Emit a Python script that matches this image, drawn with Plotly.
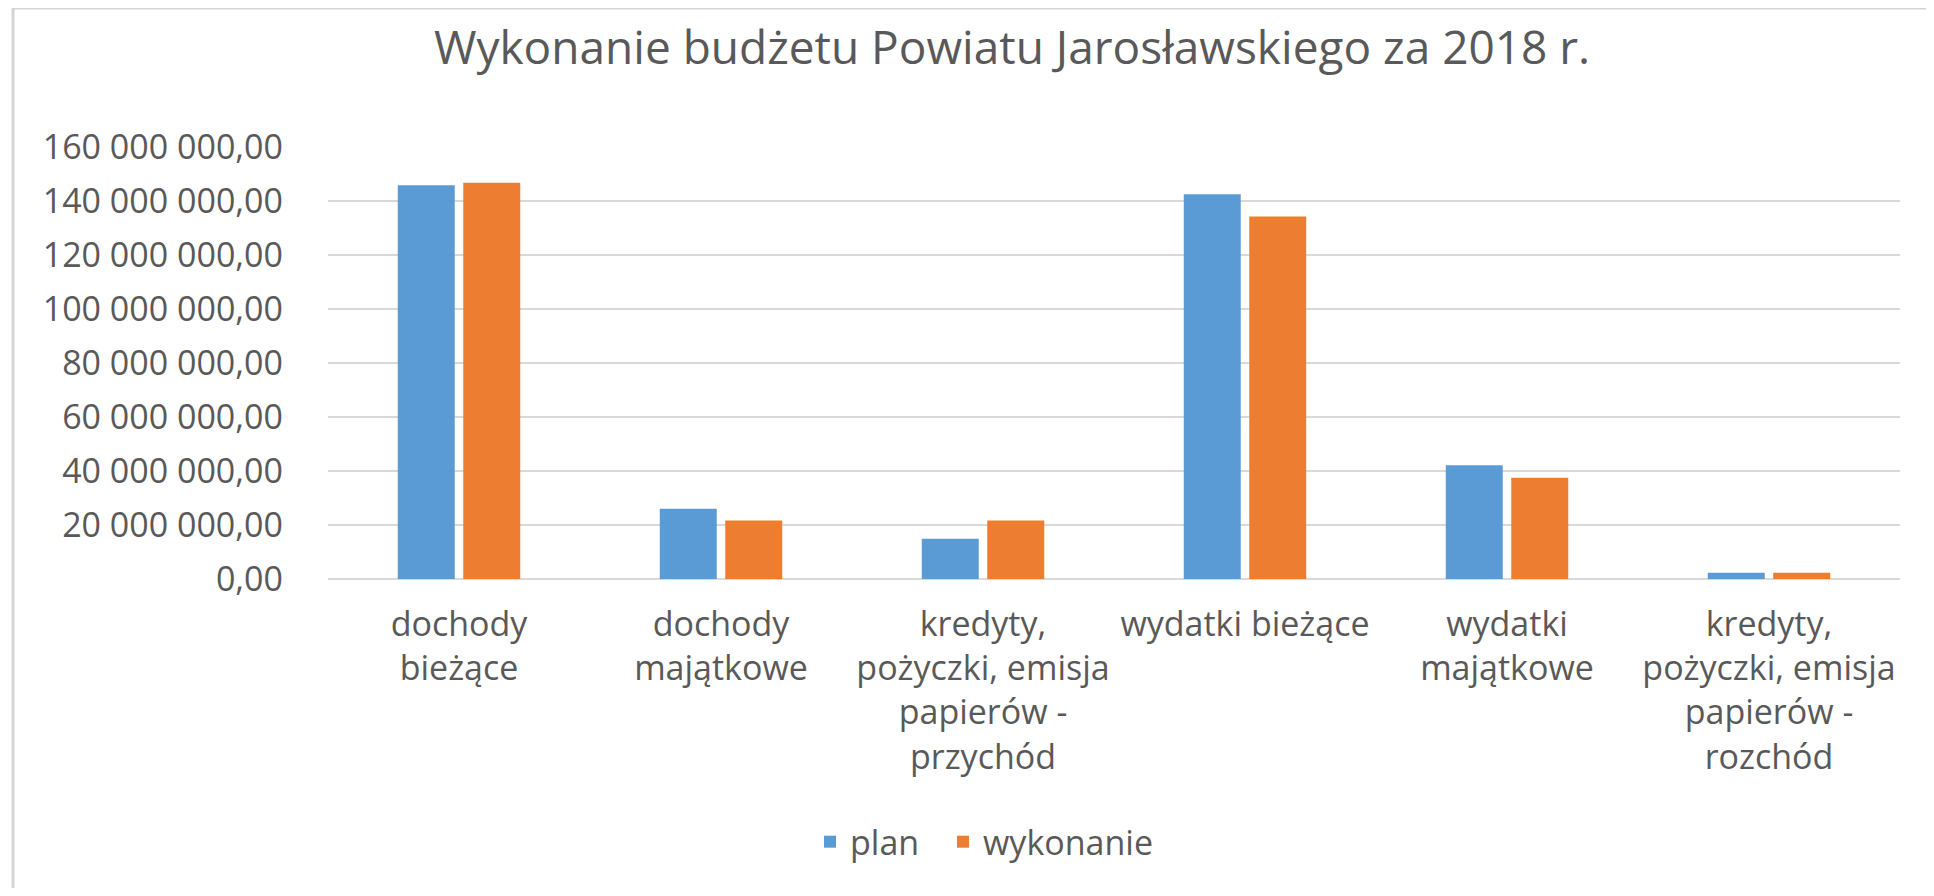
import plotly.graph_objects as go

categories = [
    "dochody<br>bieżące",
    "dochody<br>majątkowe",
    "kredyty,<br>pożyczki, emisja<br>papierów -<br>przychód",
    "wydatki bieżące",
    "wydatki<br>majątkowe",
    "kredyty,<br>pożyczki, emisja<br>papierów -<br>rozchód",
]
plan = [145_800_000, 26_000_000, 14_900_000, 142_500_000, 42_100_000, 2_300_000]
wykonanie = [146_800_000, 21_700_000, 21_700_000, 134_300_000, 37_500_000, 2_300_000]
series_names = ["plan", "wykonanie"]
y_ticks = [0, 20_000_000, 40_000_000, 60_000_000, 80_000_000, 100_000_000,
           120_000_000, 140_000_000, 160_000_000]
title_text = "Wykonanie budżetu Powiatu Jarosławskiego za 2018 r."

FONT = "Open Sans"
TXT = "#595959"
GRID = "#d9d9d9"

fig = go.Figure()
fig.add_trace(go.Bar(x=categories, y=plan, name=series_names[0],
                     legend="legend", showlegend=True,
                     marker=dict(color="#5b9bd5", line=dict(width=0))))
fig.add_trace(go.Bar(x=categories, y=wykonanie, name=series_names[1],
                     legend="legend2", showlegend=True,
                     marker=dict(color="#ed7d31", line=dict(width=0))))

legend_style = dict(orientation="h", xanchor="left", y=-0.609,
                    yanchor="middle", font=dict(size=34, color=TXT),
                    bgcolor="rgba(0,0,0,0)", visible=True)

fig.update_layout(
    width=1918, height=880,
    showlegend=True,
    margin=dict(l=320, r=26, t=139, b=309, pad=0),
    paper_bgcolor="white", plot_bgcolor="white",
    separators=", ",
    barmode="group", bargap=0.5, bargroupgap=0.13,
    font=dict(family=FONT, size=34, color=TXT),
    title=dict(text=title_text, x=0.5235, xanchor="center",
               y=1 - 40 / 880, yanchor="middle", yref="container",
               font=dict(family=FONT, size=46, color=TXT)),
    legend=dict(x=(816 - 320 - 14) / 1572, **legend_style),
    legend2=dict(x=(949 - 320 - 14) / 1572, **legend_style),
    xaxis=dict(showgrid=False, showline=False, ticks="",
               tickfont=dict(size=34, color=TXT), ticklabelstandoff=22,
               tickangle=0),
    yaxis=dict(range=[0, 160_000_000], tickvals=y_ticks, tickformat=",.2f",
               showgrid=True, gridcolor=GRID, gridwidth=2,
               zeroline=True, zerolinecolor=GRID, zerolinewidth=2,
               showline=False, ticks="", ticklabelstandoff=44,
               tickfont=dict(size=34, color=TXT)),
    shapes=[
        dict(type="line", xref="paper", yref="paper",
             x0=(5 - 320) / 1572, x1=(1918 - 320) / 1572,
             y0=(571 - 0) / 432, y1=(571 - 0) / 432,
             line=dict(color="#d4d4d4", width=3), layer="below"),
        dict(type="line", xref="paper", yref="paper",
             x0=(5 - 320) / 1572, x1=(5 - 320) / 1572,
             y0=(571 - 0) / 432, y1=(571 - 880) / 432,
             line=dict(color="#d4d4d4", width=3), layer="below"),
    ],
)

fig.write_html("out.html")
